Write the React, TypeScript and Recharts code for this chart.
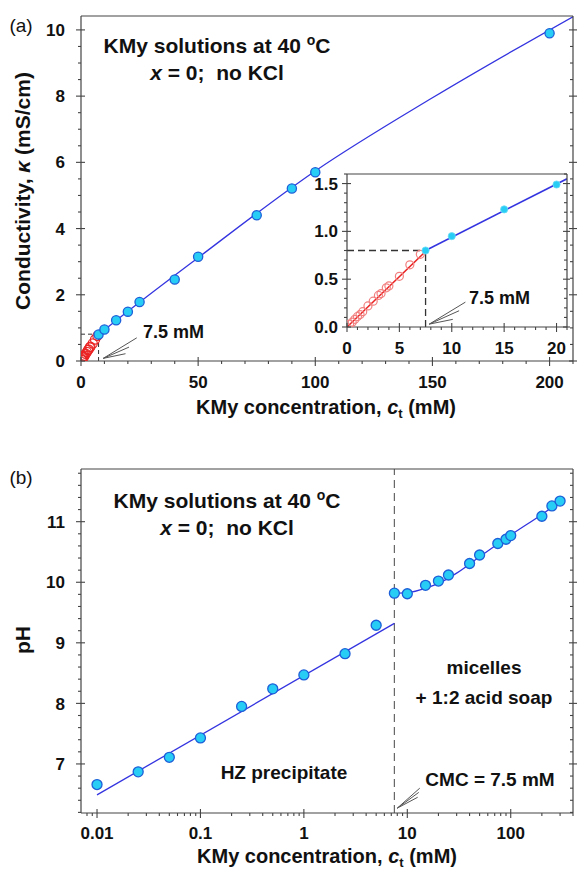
import React from 'react'
import { ComposedChart, Scatter, Line, XAxis, YAxis, ReferenceLine } from 'recharts'

const FONT = '"Liberation Sans", Arial, Helvetica, sans-serif'
const AXIS = '#444'
const BLUE_LINE = '#3434e0'
const CYAN = '#27cdf5'
const CYAN_EDGE = '#1d5fd8'
const RED = '#ea2323'

// (a) conductivity, mS/cm
const premicConc = [0.25, 0.5, 0.75, 1, 1.25, 1.5, 2, 2.5, 3, 3.25, 3.75, 4, 5, 6, 7]
const premicKappa = [0.03, 0.05, 0.08, 0.11, 0.13, 0.16, 0.22, 0.27, 0.33, 0.35, 0.41, 0.43, 0.53, 0.65, 0.76]
const micConc = [7.5, 10, 15, 20, 25, 40, 50, 75, 90, 100, 200]
const micKappa = [0.8, 0.95, 1.23, 1.49, 1.78, 2.46, 3.15, 4.4, 5.21, 5.7, 9.9]
const kappaFitConc = [7.5, 20, 50, 100, 150, 210]
const kappaFitVal = [0.8, 1.5, 3.12, 5.74, 7.95, 10.4]
const insetRedFitConc = [0, 7.5]
const insetRedFitVal = [0, 0.79]
const insetBlueFitConc = [7.5, 21]
const insetBlueFitVal = [0.8, 1.55]

// (b) pH
const phLowConc = [0.01, 0.025, 0.05, 0.1, 0.25, 0.5, 1, 2.5, 5]
const phLowVal = [6.66, 6.87, 7.11, 7.43, 7.95, 8.24, 8.47, 8.82, 9.29]
const phHighConc = [7.5, 10, 15, 20, 25, 40, 50, 75, 90, 100, 200, 250, 300]
const phHighVal = [9.82, 9.81, 9.95, 10.02, 10.12, 10.31, 10.45, 10.64, 10.71, 10.77, 11.09, 11.26, 11.34]
const phLowFitConc = [0.01, 7.5]
const phLowFitVal = [6.49, 9.32]
const phHighFitConc = [7.5, 10, 15, 20, 30, 50, 100, 200, 300]
const phHighFitVal = [9.82, 9.83, 9.9, 9.98, 10.15, 10.42, 10.78, 11.12, 11.33]

// tick labels
const kappaXLabels = [0, 50, 100, 150, 200]
const kappaYLabels = [0, 2, 4, 6, 8, 10]
const insetXLabels = [0, 5, 10, 15, 20]
const insetYLabels = [0, 0.5, 1, 1.5]
const phXLabels = [0.01, 0.1, 1, 10, 100]
const phYLabels = [7, 8, 9, 10, 11]

const CMC = 7.5

const zip = (xs: number[], ys: number[]) => xs.map((c, i) => ({ c, v: ys[i] }))

const range = (a: number, b: number, step: number) => {
  const out: number[] = []
  for (let v = a; v <= b + 1e-9; v += step) out.push(Math.round(v * 1000) / 1000)
  return out
}

const logTicks = (from: number, to: number) => {
  const out: number[] = []
  for (let e = -3; e <= 3; e++) {
    for (let m = 1; m <= 9; m++) {
      const v = Number((m * Math.pow(10, e)).toPrecision(3))
      if (v >= from && v <= to) out.push(v)
    }
  }
  return out
}

const near = (v: number, list: number[]) => list.some((t) => Math.abs(t - v) < 1e-6)

type Side = 'bottom' | 'left' | 'top' | 'right'

function makeTick(side: Side, majors: number[], fmt?: (v: number) => string, gap = 16, fontSize = 17) {
  return (props: any) => {
    const { x, y, payload } = props
    const v = payload.value as number
    const major = near(v, majors)
    const out = major ? 5 : side === 'left' || side === 'bottom' ? 3 : 0
    const inn = major ? 4 : side === 'left' || side === 'bottom' ? 0 : 3
    let line
    if (side === 'bottom') line = <line x1={x} x2={x} y1={y - inn} y2={y + out} />
    else if (side === 'top') line = <line x1={x} x2={x} y1={y - out} y2={y + inn} />
    else if (side === 'left') line = <line x1={x - out} x2={x + inn} y1={y} y2={y} />
    else line = <line x1={x - inn} x2={x + out} y1={y} y2={y} />
    return (
      <g stroke={AXIS} strokeWidth={1.1}>
        {line}
        {major && fmt && (
          <text
            x={side === 'left' ? x - gap : x}
            y={side === 'bottom' ? y + gap : y}
            dy="0.36em"
            textAnchor={side === 'left' ? 'end' : 'middle'}
            fontFamily={FONT}
            fontWeight="bold"
            fontSize={fontSize}
            fill="#111"
            stroke="none"
          >
            {fmt(v)}
          </text>
        )}
      </g>
    )
  }
}

const CyanDot = (r: number, edge: boolean) => (props: any) => (
  <circle cx={props.cx} cy={props.cy} r={r} fill={CYAN} stroke={edge ? CYAN_EDGE : '#6fdcf5'} strokeWidth={edge ? 1.3 : 0.8} />
)
const RedRing = (r: number, color: string) => (props: any) => (
  <circle cx={props.cx} cy={props.cy} r={r} fill="none" stroke={color} strokeWidth={1.2} />
)

function arrow(tip: [number, number], ends: [number, number][], xId: string, yId: string, key: string) {
  return ends.map((e, i) => (
    <ReferenceLine
      key={key + i}
      xAxisId={xId}
      yAxisId={yId}
      segment={[{ x: tip[0], y: tip[1] }, { x: e[0], y: e[1] }]}
      stroke="#555"
      strokeWidth={1}
      ifOverflow="visible"
    />
  ))
}

const axisCommon = { tickSize: 0, tickMargin: 0, interval: 0 as const, axisLine: { stroke: AXIS, strokeWidth: 1.2 }, tickLine: false, allowDataOverflow: true }

function ConductivityMain() {
  const xTicks = range(0, 210, 10)
  const yTicks = range(0, 10, 0.5)
  return (
    <ComposedChart width={577} height={400} margin={{ top: 6, right: 0, bottom: 0, left: 0 }}>
      <XAxis xAxisId="b" dataKey="c" type="number" domain={[0, 210]} ticks={xTicks} height={39} {...axisCommon} tick={makeTick('bottom', kappaXLabels, (v) => String(v), 21)} />
      <XAxis xAxisId="t" orientation="top" type="number" domain={[0, 210]} ticks={xTicks} height={10} {...axisCommon} tick={makeTick('top', kappaXLabels)} />
      <YAxis yAxisId="l" type="number" domain={[0, 10.42]} ticks={yTicks} width={81} {...axisCommon} tick={makeTick('left', kappaYLabels, (v) => String(v))} />
      <YAxis yAxisId="r" orientation="right" type="number" domain={[0, 10.42]} ticks={yTicks} width={4} {...axisCommon} tick={makeTick('right', kappaYLabels)} />
      <ReferenceLine xAxisId="b" yAxisId="l" segment={[{ x: 0, y: 0.81 }, { x: CMC, y: 0.81 }]} stroke="#333" strokeDasharray="4 3" />
      <ReferenceLine xAxisId="b" yAxisId="l" segment={[{ x: CMC, y: 0 }, { x: CMC, y: 0.81 }]} stroke="#333" strokeDasharray="4 3" />
      {arrow([9.5, 0.08], [[23.8, 0.7], [20.5, 0.42], [19, 0.22]], 'b', 'l', 'aa')}
      <Scatter xAxisId="b" yAxisId="l" data={zip(premicConc, premicKappa)} dataKey="v" shape={RedRing(4.6, RED)} isAnimationActive={false} />
      <Line xAxisId="b" yAxisId="l" data={zip(kappaFitConc, kappaFitVal)} dataKey="v" type="monotone" stroke={BLUE_LINE} strokeWidth={1.3} dot={false} isAnimationActive={false} />
      <Scatter xAxisId="b" yAxisId="l" data={zip(micConc, micKappa)} dataKey="v" shape={CyanDot(4.6, true)} isAnimationActive={false} />
    </ComposedChart>
  )
}

function ConductivityInset() {
  const xTicks = range(0, 21, 1)
  const yTicks = range(0, 1.6, 0.1)
  const fmt1 = (v: number) => v.toFixed(1)
  return (
    <ComposedChart width={270} height={200} margin={{ top: 0, right: 0, bottom: 0, left: 0 }}>
      <XAxis xAxisId="b" dataKey="c" type="number" domain={[0, 21]} ticks={xTicks} height={39} {...axisCommon} tick={makeTick('bottom', insetXLabels, (v) => String(v), 21)} />
      <XAxis xAxisId="t" orientation="top" type="number" domain={[0, 21]} ticks={xTicks} height={8} {...axisCommon} tick={makeTick('top', insetXLabels)} />
      <YAxis yAxisId="l" type="number" domain={[0, 1.6]} ticks={yTicks} width={47} {...axisCommon} tick={makeTick('left', insetYLabels, fmt1, 9)} />
      <YAxis yAxisId="r" orientation="right" type="number" domain={[0, 1.6]} ticks={yTicks} width={3} {...axisCommon} tick={makeTick('right', insetYLabels)} />
      <ReferenceLine xAxisId="b" yAxisId="l" segment={[{ x: 0, y: 0.8 }, { x: CMC, y: 0.8 }]} stroke="#333" strokeDasharray="7 4" strokeWidth={1.3} />
      <ReferenceLine xAxisId="b" yAxisId="l" segment={[{ x: CMC, y: 0 }, { x: CMC, y: 0.8 }]} stroke="#333" strokeDasharray="7 4" strokeWidth={1.3} />
      {arrow([7.85, 0.03], [[11.3, 0.26], [10.7, 0.17], [10.1, 0.08]], 'b', 'l', 'ia')}
      <Scatter xAxisId="b" yAxisId="l" data={zip(premicConc, premicKappa)} dataKey="v" shape={RedRing(4, '#f28080')} isAnimationActive={false} />
      <Line xAxisId="b" yAxisId="l" data={zip(insetRedFitConc, insetRedFitVal)} dataKey="v" type="linear" stroke={RED} strokeWidth={1.5} dot={false} isAnimationActive={false} />
      <Line xAxisId="b" yAxisId="l" data={zip(insetBlueFitConc, insetBlueFitVal)} dataKey="v" type="linear" stroke={BLUE_LINE} strokeWidth={1.6} dot={false} isAnimationActive={false} />
      <Scatter xAxisId="b" yAxisId="l" data={zip(micConc, micKappa).filter((d) => d.c <= 21)} dataKey="v" shape={CyanDot(3.6, false)} isAnimationActive={false} />
    </ComposedChart>
  )
}

function PhChart() {
  const xTicks = logTicks(0.008, 400)
  const yTicks = range(6.2, 11.8, 0.2)
  const fmtLog = (v: number) => String(v)
  return (
    <ComposedChart width={577} height={422} margin={{ top: 0, right: 0, bottom: 0, left: 0 }}>
      <XAxis xAxisId="b" dataKey="c" type="number" scale="log" domain={[0.007, 400]} ticks={xTicks} height={59} {...axisCommon} tick={makeTick('bottom', phXLabels, fmtLog, 20)} />
      <XAxis xAxisId="t" orientation="top" type="number" scale="log" domain={[0.007, 400]} ticks={xTicks} height={19} {...axisCommon} tick={makeTick('top', phXLabels)} />
      <YAxis yAxisId="l" type="number" domain={[6.19, 11.87]} ticks={yTicks} width={81} {...axisCommon} tick={makeTick('left', phYLabels, (v) => String(v))} />
      <YAxis yAxisId="r" orientation="right" type="number" domain={[6.19, 11.87]} ticks={yTicks} width={4} {...axisCommon} tick={makeTick('right', phYLabels)} />
      <ReferenceLine xAxisId="b" yAxisId="l" x={CMC} stroke="#666" strokeDasharray="8 5" strokeWidth={1.2} />
      {arrow([8.0, 6.27], [[13.2, 6.6], [12.9, 6.53], [12.6, 6.45]], 'b', 'l', 'ba')}
      <Line xAxisId="b" yAxisId="l" data={zip(phLowFitConc, phLowFitVal)} dataKey="v" type="linear" stroke={BLUE_LINE} strokeWidth={1.3} dot={false} isAnimationActive={false} />
      <Line xAxisId="b" yAxisId="l" data={zip(phHighFitConc, phHighFitVal)} dataKey="v" type="monotone" stroke={BLUE_LINE} strokeWidth={1.3} dot={false} isAnimationActive={false} />
      <Scatter xAxisId="b" yAxisId="l" data={zip(phLowConc, phLowVal)} dataKey="v" shape={CyanDot(5, true)} isAnimationActive={false} />
      <Scatter xAxisId="b" yAxisId="l" data={zip(phHighConc, phHighVal)} dataKey="v" shape={CyanDot(5, true)} isAnimationActive={false} />
    </ComposedChart>
  )
}

const txt = { fontFamily: FONT, fontWeight: 'bold' as const, fill: '#111' }

function XTitle({ x, y }: { x: number; y: number }) {
  return (
    <text x={x} y={y} dy="0.36em" textAnchor="middle" fontSize={20} {...txt}>
      KMy concentration, <tspan fontStyle="italic">c</tspan>
      <tspan fontSize={13} dy={4}>t</tspan>
      <tspan dy={-4}> (mM)</tspan>
    </text>
  )
}

function PanelTitle({ x, y }: { x: number; y: number }) {
  return (
    <g>
      <text x={x} y={y} dy="0.36em" textAnchor="middle" fontSize={21} {...txt}>
        KMy solutions at 40 <tspan fontSize={14} dy={-8}>o</tspan>
        <tspan dy={8}>C</tspan>
      </text>
      <text x={x} y={y + 27} dy="0.36em" textAnchor="middle" fontSize={21} {...txt} style={{ whiteSpace: 'pre' }}>
        <tspan fontStyle="italic">x</tspan> = 0;  no KCl
      </text>
    </g>
  )
}

function Overlay() {
  return (
    <svg width={577} height={872} style={{ position: 'absolute', left: 0, top: 0, pointerEvents: 'none' }}>
      <text x={21} y={25} dy="0.36em" textAnchor="middle" fontSize={19} fontFamily={FONT} fill="#111">(a)</text>
      <text x={21} y={477} dy="0.36em" textAnchor="middle" fontSize={19} fontFamily={FONT} fill="#111">(b)</text>
      <PanelTitle x={217} y={45} />
      <PanelTitle x={227} y={500} />
      <XTitle x={326} y={407} />
      <XTitle x={327} y={856} />
      <text transform="translate(22,191) rotate(-90)" dy="0.36em" textAnchor="middle" fontSize={21} {...txt}>
        Conductivity, <tspan fontStyle="italic">κ</tspan> (mS/cm)
      </text>
      <text transform="translate(22,640) rotate(-90)" dy="0.36em" textAnchor="middle" fontSize={21} {...txt}>
        pH
      </text>
      <text x={143} y={332} dy="0.36em" fontSize={18} {...txt}>7.5 mM</text>
      <text x={469} y={298} dy="0.36em" fontSize={18} {...txt}>7.5 mM</text>
      <text x={484} y={667} dy="0.36em" textAnchor="middle" fontSize={19} {...txt}>micelles</text>
      <text x={484} y={697} dy="0.36em" textAnchor="middle" fontSize={19} {...txt}>+ 1:2 acid soap</text>
      <text x={284} y={772} dy="0.36em" textAnchor="middle" fontSize={19} {...txt}>HZ precipitate</text>
      <text x={490} y={779} dy="0.36em" textAnchor="middle" fontSize={19} {...txt}>CMC = 7.5 mM</text>
    </svg>
  )
}

export default function App() {
  return (
    <div style={{ position: 'absolute', left: 0, top: 0, width: 577, height: 872, background: '#fff', overflow: 'hidden' }}>
      <div style={{ position: 'absolute', left: 0, top: 0 }}>
        <ConductivityMain />
      </div>
      <div style={{ position: 'absolute', left: 300, top: 166 }}>
        <ConductivityInset />
      </div>
      <div style={{ position: 'absolute', left: 0, top: 450 }}>
        <PhChart />
      </div>
      <Overlay />
    </div>
  )
}
